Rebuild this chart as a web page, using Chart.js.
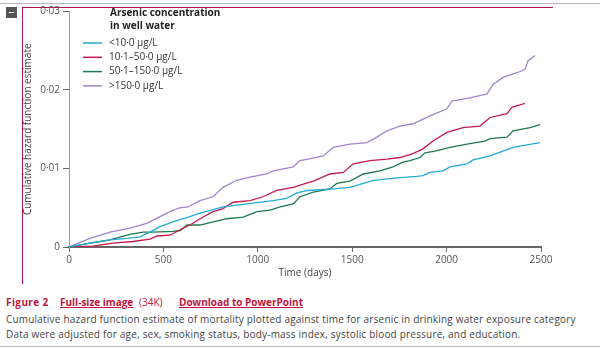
<!DOCTYPE html>
<html>
<head>
<meta charset="utf-8">
<script src="https://cdn.jsdelivr.net/npm/chart.js@4.4.0/dist/chart.umd.min.js"></script>
<style>
  body { margin: 0; width: 600px; height: 348px; background: #fff; position: relative; overflow: hidden; font-family: 'Open Sans', sans-serif; }
  .rule { position: absolute; left: 0; width: 600px; height: 1px; background: #bbb; }
  #toggle { position: absolute; left: 6px; top: 7px; width: 11px; height: 11px; background: #555; }
  #toggle::after { content: ''; position: absolute; left: 3px; top: 5px; width: 5px; height: 1px; background: #fff; }
  #frameTop { position: absolute; left: 22px; top: 7px; width: 531px; height: 1px; background: #b0173f; }
  #frameLeft { position: absolute; left: 22px; top: 7px; width: 1px; height: 277px; background: #b0173f; }
  #chartBox { position: absolute; left: 0; top: 0; width: 600px; height: 290px; }
  .figline { position: absolute; top: 295px; font-size: 10px; color: #c0143c; white-space: nowrap; }
  .figline b { font-weight: 700; letter-spacing: 0.4px; }
  .figline u { font-weight: 700; text-decoration: underline; }
  .caption { position: absolute; left: 6px; font-size: 10px; letter-spacing: 0.2px; color: #444; white-space: nowrap; }
</style>
</head>
<body>
<div class="rule" style="top:3px"></div>
<div id="toggle"></div>
<div id="frameTop"></div>
<div id="frameLeft"></div>
<div id="chartBox"><canvas id="hazardChart" width="600" height="290"></canvas></div>
<div class="figline" style="left:6px"><b>Figure 2</b></div>
<div class="figline" style="left:60px"><u>Full-size image</u></div>
<div class="figline" style="left:139px">(34K)</div>
<div class="figline" style="left:179px"><u>Download to PowerPoint</u></div>
<div class="caption" style="top:312px">Cumulative hazard function estimate of mortality plotted against time for arsenic in drinking water exposure category</div>
<div class="caption" style="top:327px">Data were adjusted for age, sex, smoking status, body-mass index, systolic blood pressure, and education.</div>
<div class="rule" style="top:346px"></div>

<script>
'use strict';

// Exposure groups (legend order)
const groupLabels = ['<10·0 µg/L', '10·1–50·0 µg/L', '50·1–150·0 µg/L', '>150·0 µg/L'];
const groupColors = ['#22aad8', '#c41a4b', '#1d7a4e', '#a086cc'];

// <10·0 µg/L
const lowDays = [0, 111, 217, 307, 376, 429, 482, 551, 631, 694, 816, 943, 1082, 1153, 1207, 1266, 1400, 1488, 1559, 1612, 1737, 1843, 1875, 1912, 1981, 2018, 2108, 2140, 2230, 2299, 2352, 2426, 2495];
const lowHazard = [0, 0.0005, 0.0009, 0.0011, 0.0013, 0.0019, 0.0026, 0.0032, 0.0038, 0.0043, 0.0051, 0.0055, 0.0059, 0.0062, 0.0069, 0.0072, 0.0074, 0.0076, 0.0081, 0.0085, 0.0088, 0.0090, 0.0091, 0.0095, 0.0097, 0.0102, 0.0106, 0.0111, 0.0116, 0.0122, 0.0127, 0.0130, 0.0133];

// 10·1–50·0 µg/L
const midDays = [0, 127, 233, 339, 429, 466, 535, 588, 641, 694, 763, 816, 869, 959, 1028, 1100, 1188, 1266, 1294, 1382, 1453, 1506, 1594, 1684, 1753, 1822, 1875, 1928, 2002, 2087, 2177, 2230, 2320, 2346, 2415];
const midHazard = [0, 0.0001, 0.0005, 0.0007, 0.0010, 0.0014, 0.0015, 0.0022, 0.0028, 0.0036, 0.0045, 0.0049, 0.0057, 0.0059, 0.0064, 0.0072, 0.0076, 0.0082, 0.0084, 0.0093, 0.0095, 0.0106, 0.0110, 0.0112, 0.0114, 0.0119, 0.0125, 0.0135, 0.0146, 0.0152, 0.0154, 0.0165, 0.0170, 0.0178, 0.0183];

// 50·1–150·0 µg/L
const highDays = [0, 111, 217, 323, 392, 440, 551, 590, 625, 694, 763, 837, 922, 996, 1065, 1118, 1188, 1223, 1294, 1382, 1418, 1488, 1559, 1647, 1716, 1769, 1806, 1859, 1886, 1939, 2018, 2108, 2203, 2230, 2320, 2352, 2442, 2495];
const highHazard = [0, 0.0005, 0.0009, 0.0016, 0.0019, 0.0019, 0.0020, 0.0021, 0.0028, 0.0028, 0.0032, 0.0036, 0.0038, 0.0045, 0.0047, 0.0051, 0.0055, 0.0064, 0.0070, 0.0074, 0.0081, 0.0084, 0.0093, 0.0097, 0.0102, 0.0108, 0.0110, 0.0114, 0.0120, 0.0122, 0.0127, 0.0131, 0.0135, 0.0138, 0.0140, 0.0148, 0.0152, 0.0156];

// >150·0 µg/L
const topDays = [0, 111, 217, 323, 412, 535, 588, 631, 694, 763, 816, 888, 959, 1047, 1082, 1188, 1223, 1266, 1347, 1400, 1488, 1578, 1631, 1684, 1753, 1822, 1912, 2002, 2028, 2124, 2214, 2246, 2299, 2373, 2415, 2431, 2468];
const topHazard = [0, 0.0011, 0.0019, 0.0024, 0.0030, 0.0045, 0.0050, 0.0051, 0.0059, 0.0064, 0.0076, 0.0085, 0.0089, 0.0093, 0.0097, 0.0102, 0.0110, 0.0112, 0.0116, 0.0127, 0.0131, 0.0133, 0.0140, 0.0148, 0.0154, 0.0157, 0.0167, 0.0176, 0.0186, 0.0190, 0.0195, 0.0207, 0.0216, 0.0222, 0.0226, 0.0237, 0.0244];

// Axis ticks
const dayTicks = [0, 500, 1000, 1500, 2000, 2500];
const hazardTicks = [0, 0.01, 0.02, 0.03];

const FONT = "'Open Sans', sans-serif";

function toPoints(days, values) {
  return days.map((d, i) => ({ x: d, y: values[i] }));
}

const seriesDays = [lowDays, midDays, highDays, topDays];
const seriesHazard = [lowHazard, midHazard, highHazard, topHazard];

const datasets = groupLabels.map((label, i) => ({
  label: label,
  data: toPoints(seriesDays[i], seriesHazard[i]),
  borderColor: groupColors[i],
  borderWidth: 1.3,
  pointRadius: 0,
  tension: 0,
  fill: false
}));

// Legend with heading, drawn inside the plot's upper-left corner
const legendBox = {
  id: 'legendBox',
  afterDraw(chart) {
    const ctx = chart.ctx;
    ctx.save();
    ctx.textBaseline = 'middle';
    ctx.fillStyle = '#222';
    ctx.font = 'bold 10px ' + FONT;
    ctx.fillText('Arsenic concentration', 110, 13);
    ctx.fillText('in well water', 110, 26);
    ctx.font = '10px ' + FONT;
    chart.data.datasets.forEach((ds, i) => {
      const y = 43 + i * 14.3;
      ctx.strokeStyle = ds.borderColor;
      ctx.lineWidth = 1.5;
      ctx.beginPath();
      ctx.moveTo(83, y);
      ctx.lineTo(102, y);
      ctx.stroke();
      ctx.fillStyle = '#333';
      ctx.fillText(ds.label, 109, y);
    });
    ctx.restore();
  }
};

new Chart(document.getElementById('hazardChart'), {
  type: 'line',
  data: { datasets: datasets },
  plugins: [legendBox],
  options: {
    responsive: false,
    animation: false,
    layout: { padding: { left: 22, right: 59, top: 11.5, bottom: 0 } },
    plugins: { legend: { display: false }, tooltip: { enabled: false } },
    scales: {
      x: {
        type: 'linear',
        min: dayTicks[0],
        max: dayTicks[dayTicks.length - 1],
        afterBuildTicks: (s) => { s.ticks = dayTicks.map(v => ({ value: v })); },
        afterFit: (s) => { s.height = 43; },
        ticks: { color: '#555', font: { family: FONT, size: 10 }, padding: 2, maxRotation: 0, callback: (v) => String(v) },
        grid: { drawOnChartArea: false, drawTicks: true, tickLength: 5, color: '#666' },
        border: { color: '#666', width: 2 },
        title: { display: true, text: 'Time (days)', color: '#444', font: { family: FONT, size: 10 }, padding: { top: 0, bottom: 11 } }
      },
      y: {
        min: hazardTicks[0],
        max: hazardTicks[hazardTicks.length - 1],
        afterBuildTicks: (s) => { s.ticks = hazardTicks.map(v => ({ value: v })); },
        afterFit: (s) => { s.width = 47; },
        ticks: { color: '#555', font: { family: FONT, size: 10 }, padding: 3, callback: (v) => v === 0 ? '0' : v.toFixed(2).replace('.', '·') },
        grid: { drawOnChartArea: false, drawTicks: true, tickLength: 6, color: '#666' },
        border: { color: '#999', width: 1 },
        title: { display: true, text: 'Cumulative hazard function estimate', color: '#444', font: { family: FONT, size: 10 }, padding: { top: 0, bottom: 0 } }
      }
    }
  }
});
</script>
</body>
</html>
